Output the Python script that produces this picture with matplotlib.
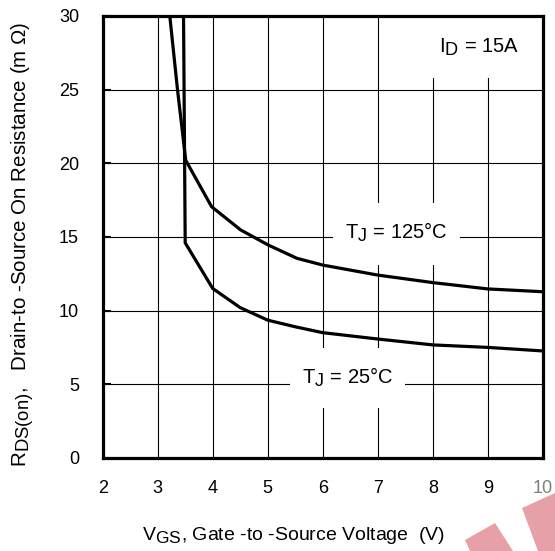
import matplotlib
matplotlib.use("Agg")
import matplotlib.pyplot as plt
import matplotlib._mathtext as mt
from matplotlib.patches import Rectangle, Polygon

plt.rcParams['font.family'] = ['Liberation Sans', 'DejaVu Sans']
plt.rcParams['mathtext.fontset'] = 'custom'
plt.rcParams['mathtext.rm'] = 'Liberation Sans'
plt.rcParams['mathtext.it'] = 'Liberation Sans'
# datasheet style: subscripts almost full size
mt.SHRINK_FACTOR = 0.9

# R_DS(on) vs V_GS
vgs_25 = [3.47, 3.50, 4.0, 4.5, 5.0, 5.5, 6.0, 7.0, 8.0, 9.0, 10.0]
rds_25 = [30.0, 14.6, 11.5, 10.2, 9.35, 8.9, 8.5, 8.07, 7.67, 7.5, 7.26]

vgs_125 = [3.22, 3.36, 3.51, 3.98, 4.51, 5.01, 5.53, 6.0, 7.0, 8.0, 9.0, 10.0]
rds_125 = [30.0, 25.0, 20.2, 17.05, 15.47, 14.45, 13.55, 13.09, 12.41, 11.9, 11.47, 11.28]

xticks = [2, 3, 4, 5, 6, 7, 8, 9, 10]
yticks = [0, 5, 10, 15, 20, 25, 30]

# label text, text position, white box behind it (x0, x1, y0, y1)
labels = [
    (r'T$_\mathrm{J}$ = 25°C', 6.45, 5.5, (5.41, 7.50, 3.39, 7.46)),
    (r'T$_\mathrm{J}$ = 125°C', 7.34, 15.3, (6.19, 8.50, 13.1, 17.3)),
    (r'I$_\mathrm{D}$ = 15A', 8.85, 27.9, (7.40, 10.0, 25.8, 30.0)),
]

fig = plt.figure(figsize=(5.55, 5.51), dpi=100)
ax = fig.add_axes([0.185, 0.169, 0.793, 0.802])

ax.plot(vgs_25, rds_25, color='black', lw=2.3, zorder=3)
ax.plot(vgs_125, rds_125, color='black', lw=2.3, zorder=3)

ax.set_xlim(2, 10)
ax.set_ylim(0, 30)
ax.set_xticks(xticks)
ax.set_yticks(yticks)
ax.set_axisbelow(True)
ax.grid(True, color='black', lw=0.8)

for txt, tx, ty, (x0, x1, y0, y1) in labels:
    ax.add_patch(Rectangle((x0, y0), x1 - x0, y1 - y0, facecolor='white',
                           edgecolor='none', zorder=1.5))
    ax.text(tx, ty, txt, fontsize=14.5, ha='center', va='center', zorder=4)

for s in ax.spines.values():
    s.set_linewidth(2.3)
    s.set_zorder(5)

ax.tick_params(axis='y', direction='in', length=6, width=1.5, pad=17, labelsize=13)
ax.tick_params(axis='x', length=0, pad=16, labelsize=13)
ax.get_xticklabels()[-1].set_color('#808080')

ax.set_xlabel(r'V$_\mathrm{GS}$, Gate -to -Source Voltage  (V)', fontsize=14)
ax.xaxis.set_label_coords(0.434, -0.152)
ax.set_ylabel(r'R$_\mathrm{DS(on)}$,   Drain-to -Source On Resistance (m $\Omega$)', fontsize=14.8)
ax.yaxis.set_label_coords(-0.152, 0.484)

# watermark fragments in the lower right corner
W, H = 555.0, 551.0
wm1 = [(465, 540), (495, 523), (513, 551), (470, 551)]
wm2 = [(522, 508), (555, 493), (555, 551), (538, 551)]
for pts in (wm1, wm2):
    fig.add_artist(Polygon([(x / W, 1 - y / H) for x, y in pts], closed=True,
                           transform=fig.transFigure, facecolor='#e8a0a8',
                           edgecolor='none', zorder=-1))

fig.savefig('out.png', dpi=100)
